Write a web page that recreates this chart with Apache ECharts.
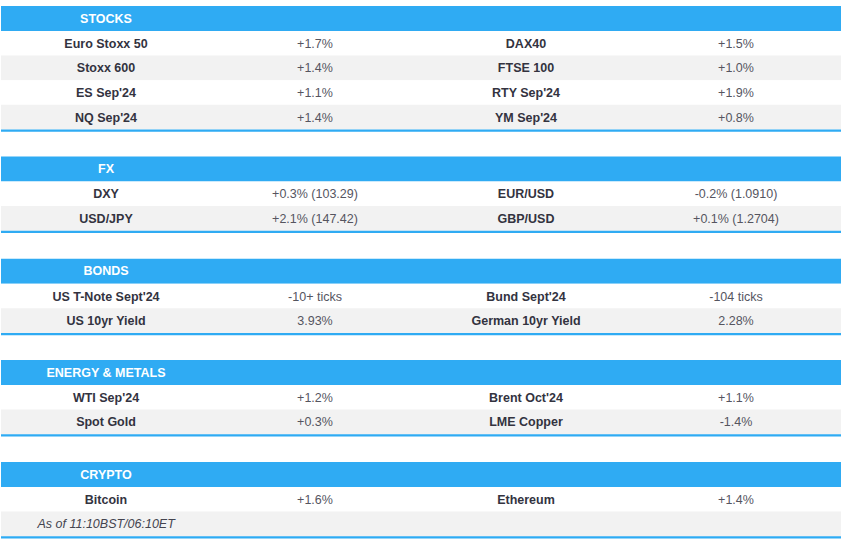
<!DOCTYPE html>
<html>
<head>
    <meta charset="utf-8">
    <title>Market snapshot table</title>
    <script src="https://cdn.jsdelivr.net/npm/echarts@6/dist/echarts.min.js"></script>
</head>
<body style="margin: 0; background: #fff">
<div id="container" style="width: 848px; height: 541px"></div>
<script>
    // table content
    var sections = ['STOCKS', 'FX', 'BONDS', 'ENERGY & METALS', 'CRYPTO'];
    var leftNames = [
        ['Euro Stoxx 50', 'Stoxx 600', "ES Sep'24", "NQ Sep'24"],
        ['DXY', 'USD/JPY'],
        ["US T-Note Sept'24", 'US 10yr Yield'],
        ["WTI Sep'24", 'Spot Gold'],
        ['Bitcoin', '']
    ];
    var leftValues = [
        ['+1.7%', '+1.4%', '+1.1%', '+1.4%'],
        ['+0.3% (103.29)', '+2.1% (147.42)'],
        ['-10+ ticks', '3.93%'],
        ['+1.2%', '+0.3%'],
        ['+1.6%', '']
    ];
    var rightNames = [
        ['DAX40', 'FTSE 100', "RTY Sep'24", "YM Sep'24"],
        ['EUR/USD', 'GBP/USD'],
        ['Bund Sept\'24', 'German 10yr Yield'],
        ["Brent Oct'24", 'LME Copper'],
        ['Ethereum', '']
    ];
    var rightValues = [
        ['+1.5%', '+1.0%', '+1.9%', '+0.8%'],
        ['-0.2% (1.0910)', '+0.1% (1.2704)'],
        ['-104 ticks', '2.28%'],
        ['+1.1%', '-1.4%'],
        ['+1.4%', '']
    ];
    var footNote = 'As of 11:10BST/06:10ET';

    // layout, in chart pixels
    var sectionTops = [6, 156.5, 258.7, 360, 462];
    var headerH = 25, rowH = 24.6, lineH = 2.4;
    var tableLeft = 1, tableRight = 841;
    var colCenters = [106, 315, 526, 736];
    var footX = 37.5, textShift = 0.5;

    var blue = '#2fabf3', grey = '#f2f2f2';
    var fontFamily = '"Liberation Sans", Arial, sans-serif';

    var myChart = echarts.init(document.getElementById('container'), null, {renderer: 'svg'});

    // one entry per painted row
    var rows = [];
    sections.forEach(function (name, s) {
        var y = sectionTops[s];
        rows.push({kind: 'header', top: y, bottom: y + headerH, name: name});
        y += headerH;
        leftNames[s].forEach(function (n, r) {
            rows.push({
                kind: r % 2 ? 'even' : 'odd', top: y, bottom: y + rowH,
                cells: [n, leftValues[s][r], rightNames[s][r], rightValues[s][r]],
                foot: n === '' ? footNote : null
            });
            y += rowH;
        });
        rows.push({kind: 'line', top: y, bottom: y + lineH});
    });

    function textEl(api, x, midY, str, font, color, align) {
        var p = api.coord([x, midY + textShift]);
        return {
            type: 'text',
            style: {
                x: p[0], y: p[1], text: str, font: font, fill: color,
                textAlign: align || 'center', textVerticalAlign: 'middle'
            }
        };
    }

    function renderRow(params, api) {
        var row = rows[params.dataIndex];
        var a = api.coord([tableLeft, row.top]);
        var b = api.coord([tableRight, row.bottom]);
        var fill = row.kind === 'even' ? grey : (row.kind === 'odd' ? '#fff' : blue);
        var children = [{
            type: 'rect',
            shape: {x: a[0], y: a[1], width: b[0] - a[0], height: b[1] - a[1]},
            style: {fill: fill}
        }];
        var mid = (row.top + row.bottom) / 2;
        if (row.kind === 'header') {
            children.push(textEl(api, colCenters[0], mid - textShift, row.name, 'bold 12.5px ' + fontFamily, '#fff'));
        } else if (row.foot) {
            children.push(textEl(api, footX, mid, row.foot, 'italic 12.5px ' + fontFamily, '#44444f', 'left'));
        } else if (row.cells) {
            row.cells.forEach(function (c, i) {
                var bold = i % 2 === 0;
                children.push(textEl(api, colCenters[i], mid, c,
                    (bold ? 'bold ' : '') + '12.5px ' + fontFamily,
                    bold ? '#33333f' : '#55555f'));
            });
        }
        return {type: 'group', children: children};
    }

    option = {
        backgroundColor: '#fff',
        animation: false,
        grid: {left: 0, right: 0, top: 0, bottom: 0},
        xAxis: {type: 'value', min: 0, max: 848, show: false},
        yAxis: {type: 'value', min: 0, max: 541, inverse: true, show: false},
        series: [{
            type: 'custom',
            silent: true,
            clip: false,
            renderItem: renderRow,
            encode: {x: 0, y: 1},
            data: rows.map(function (row) { return [tableLeft, row.top]; })
        }]
    };

    myChart.setOption(option);
</script>
</body>
</html>
